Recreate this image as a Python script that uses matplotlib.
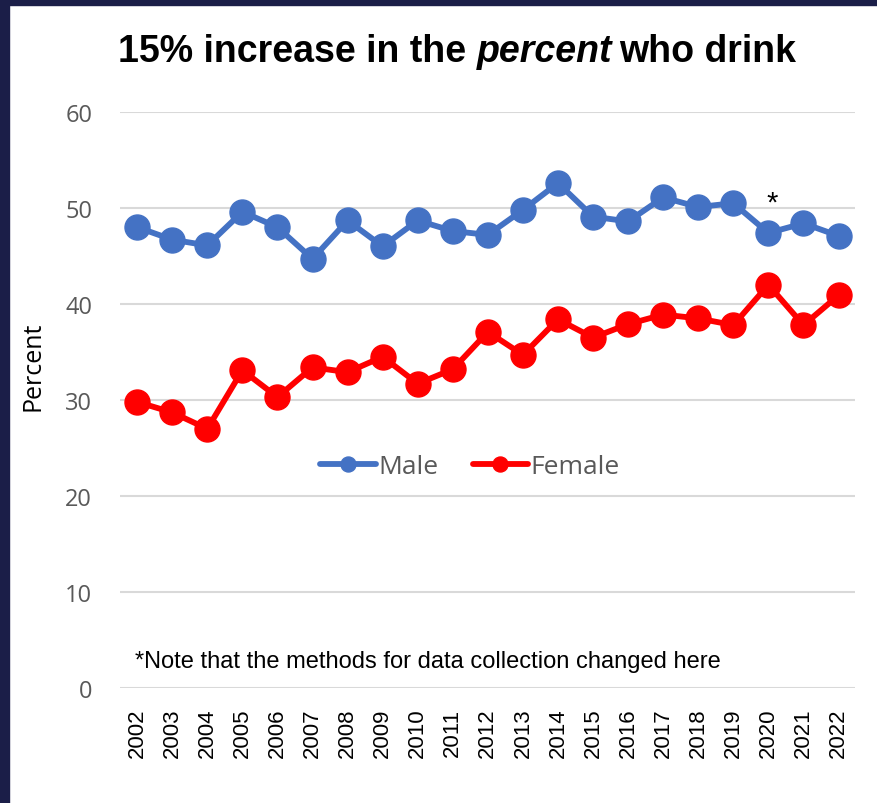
import matplotlib
matplotlib.use("Agg")
import matplotlib.pyplot as plt
from matplotlib.patches import Rectangle

years = list(range(2002, 2023))
year_labels = [str(y) for y in years]
male = [48.0, 46.7, 46.1, 49.6, 48.0, 44.7, 48.7, 46.0, 48.7, 47.6, 47.2,
        49.8, 52.6, 49.1, 48.6, 51.1, 50.1, 50.5, 47.4, 48.4, 47.1]
female = [29.8, 28.7, 27.0, 33.1, 30.3, 33.4, 32.9, 34.5, 31.7, 33.2, 37.1,
          34.7, 38.4, 36.5, 37.9, 38.9, 38.5, 37.8, 42.0, 37.8, 40.9]
yticks = [0, 10, 20, 30, 40, 50, 60]

W, H = 877, 804
fig = plt.figure(figsize=(W / 100, H / 100), dpi=100)
fig.patch.set_facecolor("white")

# navy frame strips
navy = "#1b1e48"
fig.add_artist(Rectangle((0, 0), 9 / W, 1, transform=fig.transFigure, color=navy, zorder=0))
fig.add_artist(Rectangle((0, 1 - 6 / H), 1, 6 / H, transform=fig.transFigure, color=navy, zorder=0))

left, right = 120 / W, 855 / W
bottom, top = 1 - 689 / H, 1 - 113 / H
ax = fig.add_axes([left, bottom, right - left, top - bottom])

x = list(range(len(years)))
ax.plot(x, male, color="#4472c4", lw=4.2, marker="o", ms=18, label="Male", zorder=3,
        solid_capstyle="round")
ax.plot(x, female, color="#ff0000", lw=4.2, marker="o", ms=18, label="Female", zorder=3,
        solid_capstyle="round")

ax.set_ylim(0, 60)
ax.set_xlim(-0.49, len(years) - 0.53)
ax.set_yticks(yticks)
ax.set_yticklabels([str(v) for v in yticks], fontfamily="Open Sans", fontsize=17, color="#595959")
ax.set_xticks(x)
ax.set_xticklabels(year_labels, rotation=90, fontfamily="Liberation Sans", fontsize=16, color="black")
ax.tick_params(axis="both", length=0)
ax.tick_params(axis="y", pad=20)
ax.tick_params(axis="x", pad=14)
ax.grid(axis="y", color="#d9d9d9", lw=1.5)
ax.set_axisbelow(True)
for s in ax.spines.values():
    s.set_visible(False)

ax.set_ylabel("Percent", fontfamily="Open Sans", fontsize=18, color="black")
ax.yaxis.set_label_coords((45 - 120) / 735, (689 - 366) / 576)

leg = ax.legend(loc="center", bbox_to_anchor=((470 - 120) / 735, (689 - 468) / 576), ncol=2,
                frameon=False, prop={"family": "Open Sans", "size": 19}, handlelength=2.1,
                handletextpad=0.1, columnspacing=1.3, markerscale=0.6)
for t in leg.get_texts():
    t.set_color("#595959")

ty = 1 - 52 / H
t1 = fig.text(118 / W, ty, "15% increase in the ", fontfamily="Liberation Sans",
              fontweight="bold", fontsize=27, va="center", ha="left")
renderer = fig.canvas.get_renderer()
bb = t1.get_window_extent(renderer)
t2 = fig.text(bb.x1 / W, ty, "percent", fontfamily="Liberation Sans",
              fontweight="bold", style="italic", fontsize=27, va="center", ha="left")
bb2 = t2.get_window_extent(renderer)
fig.text(bb2.x1 / W + 7 / W, ty, "who drink", fontfamily="Liberation Sans",
         fontweight="bold", fontsize=27, va="center", ha="left")

ax.annotate("*", xy=(years.index(2020), male[years.index(2020)]), xytext=(3, 22),
            textcoords="offset points", ha="center", va="center", fontsize=21,
            fontfamily="Liberation Sans")

fig.text(135 / W, 1 - 662 / H, "*Note that the methods for data collection changed here",
         fontfamily="Liberation Sans", fontsize=17, va="center", ha="left")

fig.savefig("out.png", dpi=100, facecolor="white")
